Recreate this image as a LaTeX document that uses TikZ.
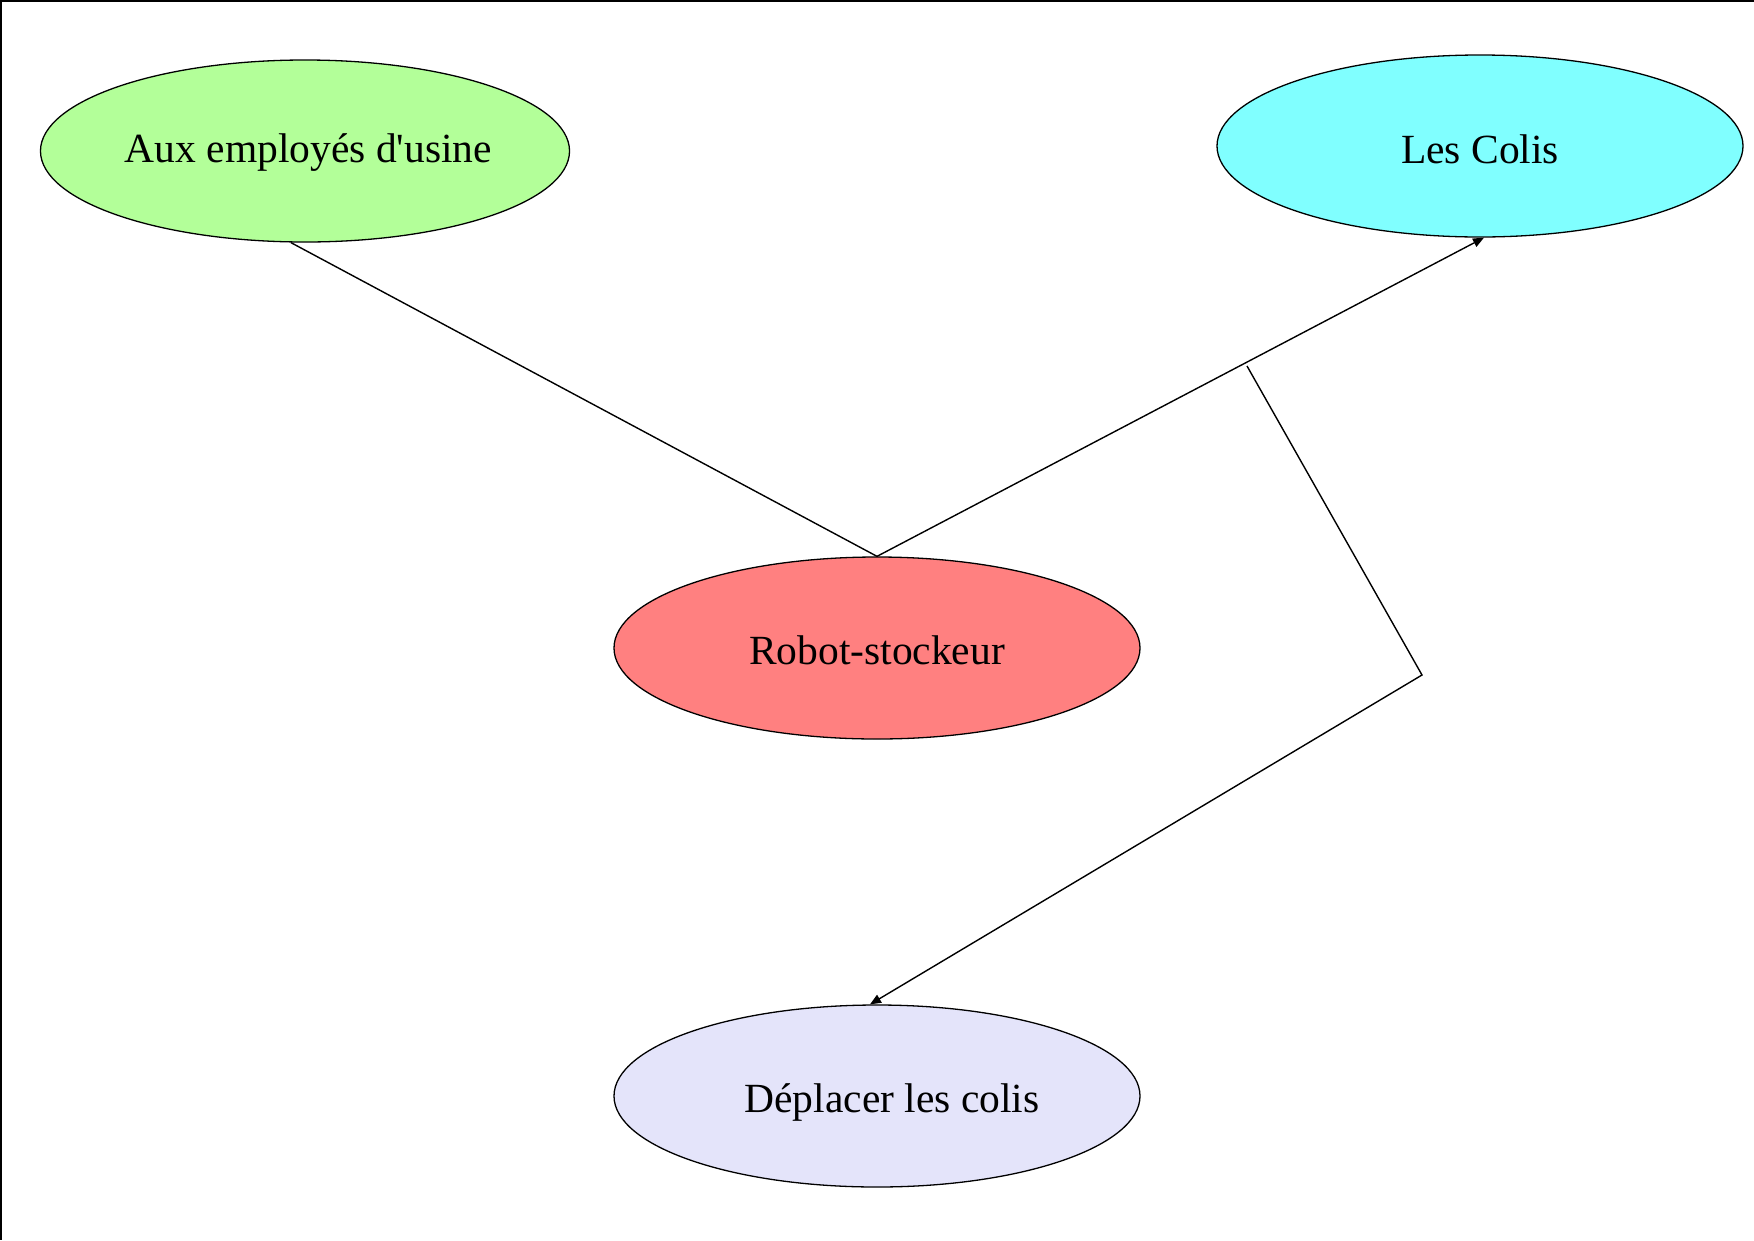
\documentclass[tikz,border=0pt]{standalone}
\usepackage{fontspec}
\setmainfont{Liberation Serif}
\usetikzlibrary{shapes.geometric,arrows.meta}
\definecolor{cgreen}{RGB}{179,255,153}
\definecolor{ccyan}{RGB}{128,255,255}
\definecolor{cred}{RGB}{255,128,128}
\definecolor{clav}{RGB}{228,228,250}
\tikzset{
  oval/.style={ellipse, draw=black, line width=1.3pt, minimum width=526pt, minimum height=182pt, inner sep=0pt, text height=42pt, text depth=10pt, font=\fontsize{41.5}{50}\selectfont},
  lbl/.style={inner sep=0pt, text height=42pt, text depth=10pt, font=\fontsize{41.5}{50}\selectfont},
  conn/.style={draw=black, line width=1.4pt},
  arr/.style={conn, -{Triangle[length=11pt,width=9pt]}}
}
\begin{document}
\begin{tikzpicture}[x=1pt,y=-1pt]
\useasboundingbox (0,0) rectangle (1754,1240);
\fill[white] (0,0) rectangle (1754,1240);
\draw[line width=2pt] (0,1) -- (1754,1);
\draw[line width=2pt] (1,0) -- (1,1240);
\node[oval, fill=cgreen, text height=32pt] (aux) at (305,151) {\hspace*{7pt}Aux employés d\textquotesingle usine};
\node[oval, fill=ccyan, text height=44pt] (colis) at (1480,146) {Les Colis};
\node[oval, fill=cred] (rob) at (877,648) {Robot-stockeur};
\node[oval, fill=clav] (dep) at (877,1096) {};
\node[lbl] (deplbl) at (892,1096) {Déplacer les colis};
\coordinate (j) at (1247,366);
\coordinate (b) at (1422,675);
\draw[conn] ([xshift=-14pt]aux.south) -- (rob.north);
\draw[arr] (rob.north) -- ([xshift=4pt]colis.south);
\draw[arr] (j) -- (b) -- ([xshift=-7pt]dep.north);
\end{tikzpicture}
\end{document}
